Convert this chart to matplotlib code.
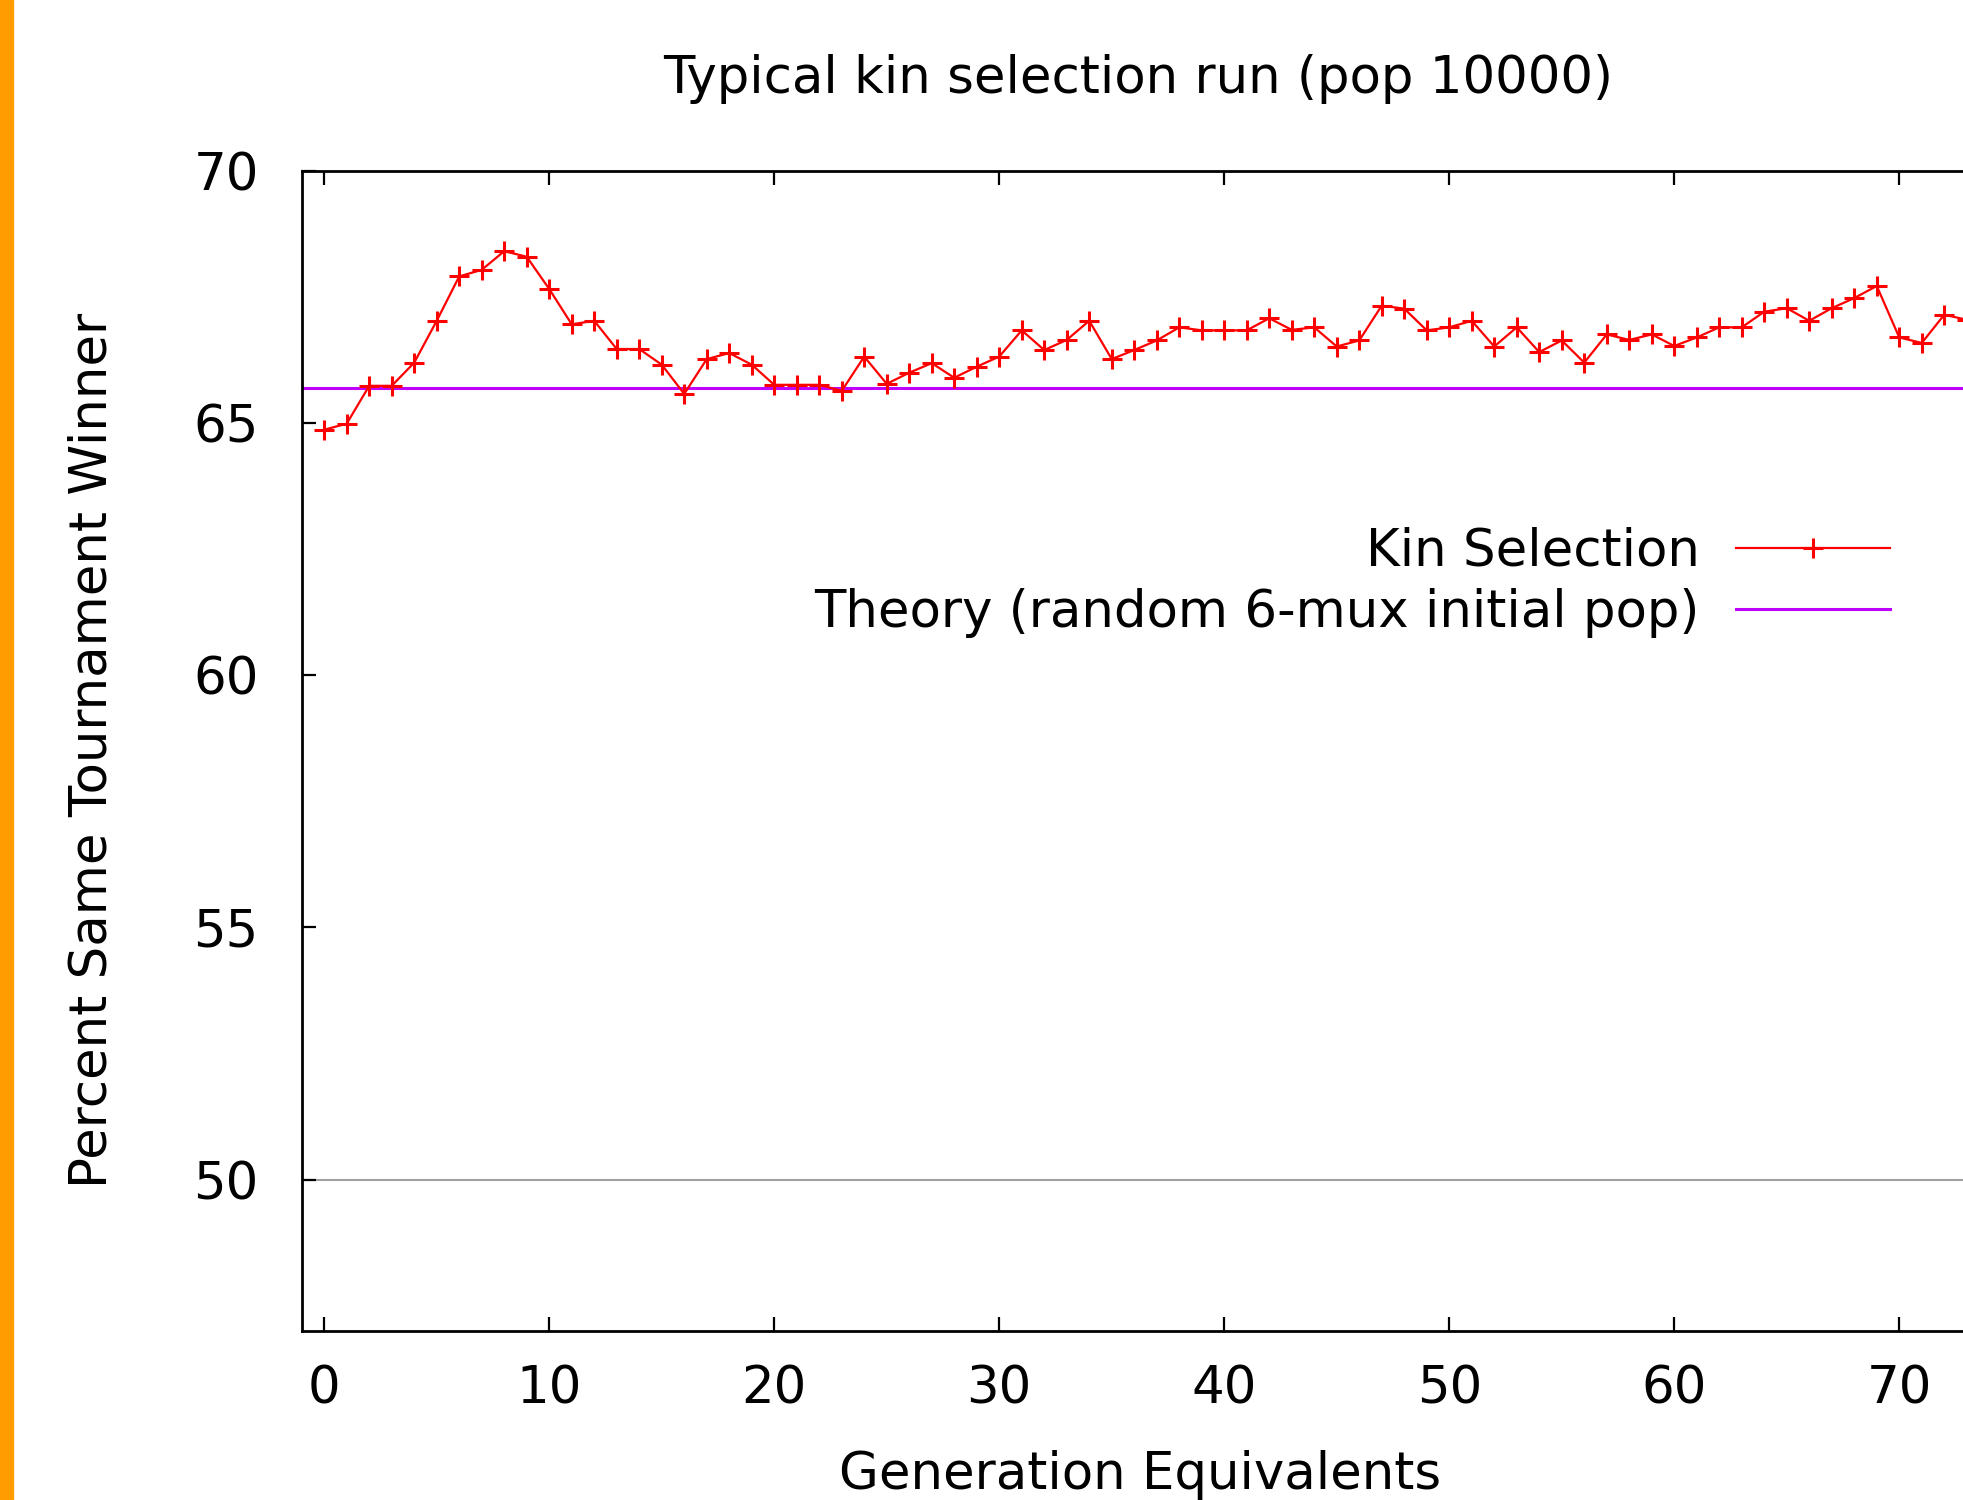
import numpy as np
from matplotlib import pyplot as plt
from matplotlib.patches import Rectangle

# generation equivalents sampled once per generation
generations = list(range(74))

# percent of tournaments with the same winner (kin selection run)
kin_selection = [
    64.87, 64.99, 65.74, 65.74, 66.20, 67.03, 67.91, 68.04, 68.41, 68.30,
    67.66, 66.96, 67.03, 66.47, 66.47, 66.16, 65.58, 66.27, 66.39, 66.16,
    65.76, 65.76, 65.76, 65.64, 66.32, 65.78, 66.00, 66.19, 65.90, 66.12,
    66.32, 66.84, 66.45, 66.65, 67.03, 66.27, 66.45, 66.64, 66.90, 66.84,
    66.84, 66.84, 67.08, 66.85, 66.90, 66.52, 66.64, 67.33, 67.27, 66.84,
    66.90, 67.03, 66.52, 66.90, 66.41, 66.64, 66.20, 66.76, 66.65, 66.76,
    66.53, 66.70, 66.90, 66.90, 67.21, 67.28, 67.03, 67.28, 67.48, 67.72,
    66.70, 66.59, 67.15, 67.05,
]

theory_value = 65.69  # random 6-mux initial pop
baseline = 50

y_ticks = [50, 55, 60, 65, 70]
x_ticks = [0, 10, 20, 30, 40, 50, 60, 70]  # the rest is cropped off

plt.rcParams["font.family"] = "DejaVu Sans"
fs = 37

fig = plt.figure(figsize=(19.63, 15.0), dpi=100)

# axes run off the right edge, like the cropped screenshot
ax = fig.add_axes([0.1537, 0.1127, 1.1577, 0.7733])
ax.set_xlim(-1, 100)
ax.set_ylim(47, 70)

ax.axhline(baseline, color="#a0a0a0", lw=1.5, zorder=1)
ax.axhline(theory_value, color="#c000ff", lw=2.2, zorder=2,
           label="Theory (random 6-mux initial pop)")
ax.plot(generations, kin_selection, color="red", lw=1.6, marker="+",
        markersize=15, markeredgewidth=2.2, zorder=3, label="Kin Selection")

ax.set_xticks(x_ticks)
ax.set_yticks(y_ticks)
ax.tick_params(axis="both", direction="in", length=10, width=1.6,
               labelsize=fs, top=True, right=False)
ax.tick_params(axis="y", pad=31)
ax.tick_params(axis="x", pad=24)
for s in ax.spines.values():
    s.set_linewidth(2)

# legend: kin selection first, text left of the sample
h, l = ax.get_legend_handles_labels()
ax.legend(h[::-1], l[::-1], loc="upper right", bbox_to_anchor=(0.9628, 0.649),
          bbox_transform=fig.transFigure, frameon=False, fontsize=fs,
          markerfirst=False, handlelength=3.0, handletextpad=0.7,
          labelspacing=0.22, borderpad=0, borderaxespad=0)

fig.text(0.5797, 0.947, "Typical kin selection run (pop 10000)", fontsize=fs,
         ha="center", va="center")
fig.text(0.047, 0.5, "Percent Same Tournament Winner", fontsize=fs,
         rotation=90, ha="center", va="center")
fig.text(0.5807, 0.0, "Generation Equivalents", fontsize=fs,
         ha="center", va="bottom")

# orange strip at the left border
fig.patches.append(Rectangle((0, 0), 13 / 1963, 1, transform=fig.transFigure,
                             color="#ff9c00", zorder=0))

plt.savefig("out.png", dpi=100)
